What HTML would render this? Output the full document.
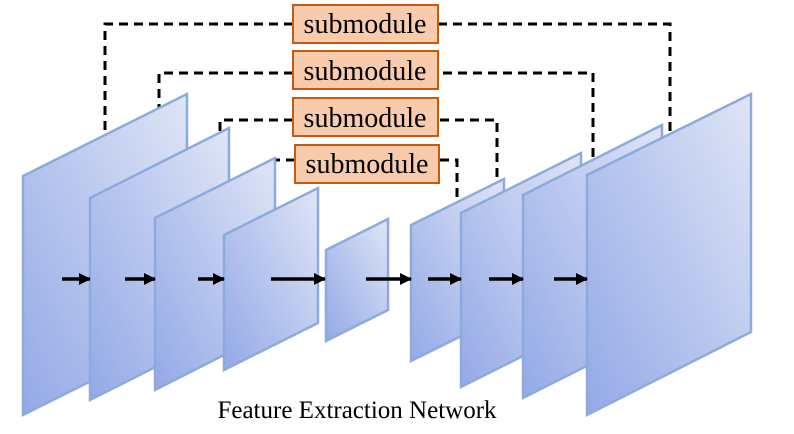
<!DOCTYPE html>
<html><head><meta charset="utf-8"><style>html,body{margin:0;padding:0;background:#fff}svg{display:block}</style></head>
<body>
<svg width="794" height="434" viewBox="0 0 794 434" xmlns="http://www.w3.org/2000/svg">
<defs>
<linearGradient id="g" x1="0" y1="1" x2="1" y2="0">
<stop offset="0" stop-color="#93a9e7"/><stop offset="1" stop-color="#dfe5f6"/>
</linearGradient>
<marker id="a" markerWidth="12" markerHeight="12" refX="11" refY="6" orient="auto" markerUnits="userSpaceOnUse">
<path d="M0,0 L12,6 L0,12 z" fill="#000"/></marker>
</defs>
<g fill="none" stroke="#000" stroke-width="3" stroke-dasharray="9,6">
<polyline points="293,24 105,24 105,136"/>
<polyline points="438,24 670,24 670,131"/>
<polyline points="293,73 159,73 159,164"/>
<polyline points="443,73 593,73 593,157"/>
<polyline points="293,120 220,120 220,184"/>
<polyline points="440,120 497,120 497,180"/>
<polyline points="295,160 272,160 272,212"/>
<polyline points="440,160 457,160 457,200"/>
</g>
<g fill="url(#g)" stroke="#8eaadb" stroke-width="2.5">
<polygon points="23,176 187,94 187,333 23,415"/>
<polygon points="90,198 229,128 229,330 90,400"/>
<polygon points="155,218 275,158 275,329 155,390"/>
<polygon points="224,235 318,188 318,323 224,370"/>
<polygon points="326,250 388,219 388,310 326,341"/>
<polygon points="411,225 504,179 504,315 411,361"/>
<polygon points="461,213 581,153 581,327 461,387"/>
<polygon points="523,195 662,125 662,328 523,398"/>
<polygon points="587,175 751,94 751,332 587,415"/>
</g>
<g stroke="#000" stroke-width="3.5" marker-end="url(#a)">
<line x1="62" y1="279" x2="90" y2="279"/>
<line x1="125" y1="279" x2="155" y2="279"/>
<line x1="198" y1="279" x2="224" y2="279"/>
<line x1="271" y1="279" x2="325" y2="279"/>
<line x1="366" y1="279" x2="411" y2="279"/>
<line x1="428" y1="279" x2="461" y2="279"/>
<line x1="489" y1="279" x2="523" y2="279"/>
<line x1="554" y1="279" x2="587" y2="279"/>
</g>
<g fill="#f8cbad" stroke="#c55a11" stroke-width="2">
<rect x="293" y="5" width="145" height="38"/>
<rect x="293" y="51" width="145" height="38"/>
<rect x="293" y="98" width="145" height="38"/>
<rect x="295" y="145" width="144" height="38"/>
</g>
<g font-family="Liberation Serif, serif" font-size="28" fill="#000" text-anchor="middle">
<text x="365" y="33">submodule</text>
<text x="365" y="80">submodule</text>
<text x="365" y="127">submodule</text>
<text x="367" y="173">submodule</text>
</g>
<text x="357" y="418" font-family="Liberation Serif, serif" font-size="25" text-anchor="middle" fill="#000">Feature Extraction Network</text>
</svg>
</body></html>
